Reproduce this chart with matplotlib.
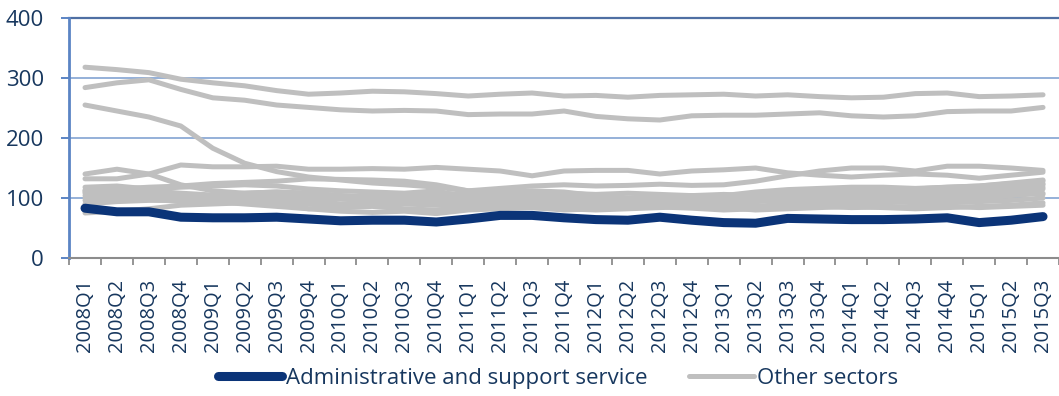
import matplotlib
matplotlib.use("Agg")
import matplotlib.pyplot as plt
from matplotlib.ticker import FixedLocator

plt.rcParams['font.family'] = ['Open Sans', 'DejaVu Sans']

quarters = [f"{y}Q{q}" for y in range(2008, 2016) for q in range(1, 5)][:31]

admin = [83, 77, 77, 68, 67, 67, 68, 65, 62, 63, 63, 60, 65, 71, 71, 67,
         64, 63, 68, 63, 59, 58, 66, 65, 64, 64, 65, 67, 59, 63, 69]

others = [
    [318, 314, 309, 298, 292, 287, 279, 273, 275, 278, 277, 274, 270, 273, 275, 270,
     271, 268, 271, 272, 273, 270, 272, 269, 267, 268, 274, 275, 269, 270, 272],
    [284, 292, 297, 281, 267, 263, 255, 251, 247, 245, 246, 245, 239, 240, 240, 245,
     236, 232, 230, 237, 238, 238, 240, 242, 237, 235, 237, 244, 245, 245, 251],
    [255, 245, 235, 220, 183, 158, 144, 135, 130, 125, 122, 118, 112, 110, 110, 108,
     100, 98, 98, 100, 104, 110, 114, 116, 118, 118, 116, 118, 120, 124, 128],
    [140, 148, 140, 122, 112, 108, 110, 108, 104, 102, 104, 108, 106, 110, 112, 110,
     104, 100, 102, 104, 100, 98, 102, 104, 106, 108, 110, 112, 115, 120, 124],
    [132, 132, 140, 155, 152, 152, 153, 148, 148, 149, 148, 151, 148, 145, 137, 145,
     146, 146, 140, 145, 147, 150, 142, 138, 135, 138, 140, 138, 133, 138, 143],
    [110, 115, 118, 120, 124, 126, 128, 132, 131, 130, 128, 122, 112, 116, 120, 122,
     120, 121, 123, 121, 122, 128, 137, 145, 150, 150, 145, 153, 153, 150, 146],
    [118, 120, 115, 118, 120, 122, 120, 115, 112, 110, 108, 112, 100, 102, 104, 100,
     98, 100, 96, 98, 100, 104, 110, 112, 110, 112, 115, 118, 120, 125, 130],
    [112, 115, 112, 108, 105, 108, 110, 108, 104, 100, 96, 98, 94, 96, 98, 95,
     92, 94, 96, 92, 94, 96, 98, 100, 102, 104, 108, 110, 112, 118, 122],
    [108, 110, 106, 104, 100, 102, 104, 104, 102, 98, 100, 102, 98, 95, 92, 94,
     90, 92, 94, 95, 96, 98, 100, 98, 100, 102, 104, 102, 104, 110, 115],
    [104, 106, 102, 100, 98, 100, 100, 96, 90, 92, 94, 90, 92, 88, 86, 90,
     92, 90, 88, 90, 92, 94, 96, 94, 96, 98, 100, 96, 98, 104, 108],
    [100, 98, 98, 94, 96, 96, 94, 90, 86, 88, 90, 88, 86, 84, 88, 86,
     84, 86, 88, 90, 88, 86, 90, 92, 90, 92, 94, 92, 94, 96, 100],
    [96, 100, 104, 106, 102, 104, 106, 100, 98, 96, 98, 96, 94, 100, 104, 102,
     100, 98, 100, 104, 106, 104, 102, 106, 108, 106, 108, 106, 108, 112, 106],
    [113, 108, 104, 100, 96, 95, 98, 102, 100, 104, 106, 104, 102, 106, 110, 108,
     106, 108, 106, 104, 102, 106, 108, 112, 114, 110, 112, 114, 116, 114, 118],
    [90, 94, 96, 96, 94, 90, 86, 82, 84, 86, 82, 80, 84, 86, 84, 82,
     80, 82, 84, 86, 84, 80, 82, 84, 86, 84, 82, 84, 86, 88, 92],
    [75, 78, 82, 88, 90, 92, 90, 82, 78, 76, 78, 74, 80, 82, 84, 80,
     82, 84, 85, 83, 80, 82, 85, 86, 84, 85, 86, 86, 84, 86, 88],
]

navy = '#0B3478'
grey = '#BFBFBF'
text_col = '#17375E'

fig = plt.figure(figsize=(10.59, 3.96), dpi=100)
ax = fig.add_axes([0.0652, 0.3485, 0.9348, 0.606])

x = list(range(len(quarters)))
for i, s in enumerate(others):
    ax.plot(x, s, color=grey, lw=3.6, solid_capstyle='round', solid_joinstyle='round',
            label='Other sectors' if i == 0 else None, zorder=2)
ax.plot(x, admin, color=navy, lw=6.5, solid_capstyle='round', solid_joinstyle='round',
        label='Administrative and support service', zorder=3)

ax.set_xlim(-0.5, len(quarters) - 0.5)
ax.set_ylim(0, 400)
ax.set_yticks([0, 100, 200, 300, 400])
for v in [100, 200, 300]:
    ax.axhline(v, color='#95B0D8', lw=1.4, zorder=1)
ax.axhline(400, color='#4F6FA3', lw=1.6, zorder=1, clip_on=False)

ax.set_xticks(x)
ax.set_xticklabels(quarters, rotation=90)
ax.xaxis.set_minor_locator(FixedLocator([i - 0.5 for i in range(len(quarters) + 1)]))
ax.tick_params(axis='x', which='major', length=0, pad=15, labelsize=14.5, labelcolor=text_col)
ax.tick_params(axis='x', which='minor', length=5, width=1.3, color='#8C8C8C')
ax.tick_params(axis='y', length=6, width=1.4, color='#5B84C4', pad=12,
               labelsize=16, labelcolor=text_col)

for side in ['top', 'right']:
    ax.spines[side].set_visible(False)
ax.spines['left'].set_color('#5B84C4')
ax.spines['left'].set_linewidth(2)
ax.spines['bottom'].set_color('#8C8C8C')
ax.spines['bottom'].set_linewidth(1.5)

handles, labels = ax.get_legend_handles_labels()
order = [1, 0]
leg = fig.legend([handles[i] for i in order], [labels[i] for i in order],
                 loc='center', bbox_to_anchor=(0.527, 0.045), ncol=2, frameon=False,
                 fontsize=16, handlelength=2.9, handletextpad=0.15, columnspacing=1.9,
                 labelcolor=text_col)

fig.savefig('out.png', dpi=100)
